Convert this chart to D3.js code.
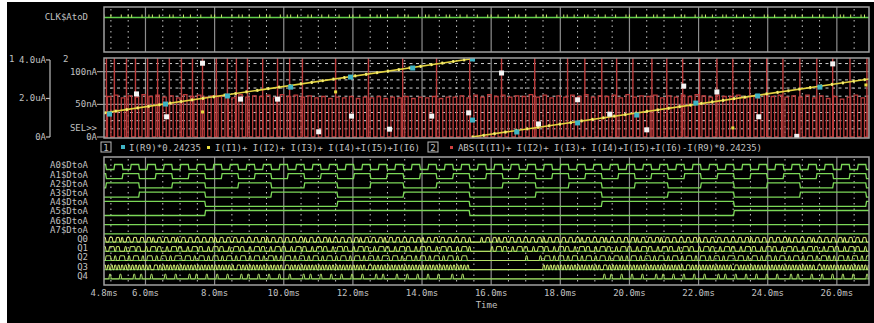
<!DOCTYPE html>
<html>
<head>
<meta charset="utf-8">
<script src="https://cdn.jsdelivr.net/npm/d3@7"></script>
<style>
  body { margin: 0; background: #000; }
  svg { display: block; }
  text { font-family: "DejaVu Sans Mono", monospace; font-size: 9px; fill: #c0c0c0; }
</style>
</head>
<body>
<div id="chart"></div>
<script>
// ---- values ----
const xTicks = [4.8, 6, 8, 10, 12, 14, 16, 18, 20, 22, 24, 26]
const xTickLabels = ["4.8ms", "6.0ms", "8.0ms", "10.0ms", "12.0ms", "14.0ms", "16.0ms", "18.0ms", "20.0ms", "22.0ms", "24.0ms", "26.0ms"]

// axis 1 (uA) and axis 2 (nA) labels
const axis1Ticks = [4, 2, 0]
const axis1Labels = ["4.0uA", "2.0uA", "0A"]
const axis2Ticks = [100, 50, 0]
const axis2Labels = ["100nA", "50nA", "0A"]

// sawtooth I(R9)*0.24235 / sum of I(Ix), in uA  [time ms, value]
const ramp1 = [[4.8, 1.25], [15.44, 4.06]]
const ramp2 = [[15.44, 0.0], [26.93, 3.01]]

// cyan markers (I(R9)*0.24235), uA
const cyanMarks = [[4.96, 1.19], [6.58, 1.71], [8.37, 2.13], [10.20, 2.59], [11.93, 3.11], [13.73, 3.58], [15.46, 4.05],
  [15.46, 0.88], [16.74, 0.26], [18.50, 0.73], [20.21, 1.14], [21.92, 1.76], [23.71, 2.13], [25.51, 2.59]]
// yellow markers off the ramp, uA
const yellowMarks = [[7.65, 1.30], [11.50, 2.34], [22.99, 0.47], [26.84, 2.70]]
// white squares, nA
const whiteMarks = [[7.65, 113], [5.74, 66], [6.61, 31], [8.75, 58], [9.82, 58], [11.01, 8], [11.96, 32], [13.06, 12],
  [14.28, 32], [15.35, 37], [16.30, 98], [17.37, 20], [18.50, 57], [19.43, 35], [20.50, 11], [21.57, 78],
  [22.53, 69], [23.74, 31], [24.84, 1], [25.88, 112]]

// ABS(...) error trace: one pulse every 0.2 ms, top = 57 + digit nA
const redStart = 4.8, redStep = 0.2
const redHigh = "5736485746 3857465738 4657385746 3524352435 2435243524 4637485746 5847364758 4657384657 3647586475 5746385746 47362514736"
// tall red glitches (ms), they run off the top of the panel
const redSpikes = [4.87, 5.10, 5.45, 5.71, 6.06, 6.35, 6.69, 7.04, 7.36, 7.65, 8.05, 8.37, 8.63, 8.95, 9.39, 9.82, 10.17,
  10.54, 11.50, 12.45, 13.44, 14.42, 15.38, 16.30, 17.26, 18.21, 18.71, 19.20, 19.63, 20.10, 20.65, 21.08, 21.54,
  22.03, 22.53, 22.99, 23.48, 23.97, 24.44, 24.93, 25.42, 25.88, 26.38, 26.87]
const redSpikeTop = 130

// counter bits A0..A7, one char per count, counts start at 4.62 ms, 0.239 ms each
const countStart = 4.62, countStep = 0.239
const aLabels = ["A0$DtoA", "A1$DtoA", "A2$DtoA", "A3$DtoA", "A4$DtoA", "A5$DtoA", "A6$DtoA", "A7$DtoA"]
const a0Bits = "10101 01010 10101 01010 10101 01010 10101 01010 10101 01010 10101 01010 10101 01010 10101 01010 10101 01010 1010"
const a1Bits = "1 0011 0011 0011 0011 0011 0011 0011 0011 0011 0011 0011 0011 0011 0011 0011 0011 0011 0011 0011 0011 0011 0011 0011 0"
const a2Bits = "0 11110000 11110000 11110000 11110000 11110000 1111 00001111 00001111 00001111 00001111 00001111 00001111 0"
const a3Bits = "00000 11111111 00000000 11111111 00000000 11111111 00000000 11111111 00000000 11111111 00000000 11111111 0"
const a4Bits = "1111111111111 0000000000000000 1111111111111111 0000000000000000 1111111111111111 0000000000000000 1"
const a5Bits = "0000000000000 11111111111111111111111111111111 00000000000000000000000000000000 11111111111111111"
const a6Bits = "0"
const a7Bits = "0"

// outputs Q0..Q4, one char per 0.1 ms from 4.8 ms; each char holds two 0.05 ms samples (0=00 1=01 2=10 3=11)
const qStart = 4.8, qStep = 0.1
const qLabels = ["Q0", "Q1", "Q2", "Q3", "Q4"]
const q0Bits = "2121221212 1212212121 2212121212 1221212121 2121212212 1212121221 2121221212 1212212121 2212121212 1221212121 2121210002 1212212121 2121212212 1212121221 2121221212 1212212121 2212121212 1221212121 2121212212 1212121221 2121221212 1212212121 21"
const q1Bits = "2131202131 2021312021 3120213120 2131202131 2021312021 3120213120 2131202131 2021312021 3120213120 2131202131 2021310000 0021312021 3120213120 2131202131 2021312021 3120213120 2131202131 2021312021 3120213120 2131202131 2021312021 3120213120 21"
const q2Bits = "1302130213 0213021302 1321302130 2130213021 3021302131 0213021302 1302130213 0213021302 1321302130 2130213021 3021300000 0000000000 0020002130 2130213021 3021302131 0213021302 1302130213 0213021302 1321302130 2130213021 3021302131 0213021302 13"
const q3Bits = "2222222222 2222122222 2222222222 2222222212 2222222222 2212222222 2222222222 2222221222 2222222222 2222222222 2222220000 0000000000 0000000222 2222222222 2222122222 2222222222 2222222212 2222222222 2212222222 2222222222 2222221222 2222222222 22"
const q4Bits = "0100100010 1001000100 1000101001 0010010001 0100100100 1001000101 0010010010 0100100010 1000100100 1001001000 1001000000 0000000000 0000000000 0000000000 0000101001 0010010001 0100100100 1001000101 0010010010 0100100010 1000100100 1001001000 10"

// clock ticks on CLK$AtoD, one char per 0.1 ms
const clkBits = "1010010110 0101101001 1001010010 0110100101 1010010110 0101101001 1001010010 0110100101 1010010110 0101101001 1001010010 0110100101 1010010110 0101101001 1001010010 0110100101 1010010110 0101101001 1001010010 0110100101 1010010110 0101101001 10"

// ---- drawing ----
const W = 874, H = 323
const left = 104, right = 869
const topP = { y0: 7, y1: 52 }, midP = { y0: 58, y1: 138 }, digP = { y0: 157, y1: 285 }

const x = d3.scaleLinear().domain([4.8, 26.93]).range([left, right])
const yI = d3.scaleLinear().domain([0, 4.1]).range([137, 58])
const yN = d3.scaleLinear().domain([0, 121]).range([137, 58])

const clean = s => s.replace(/\s/g, "")

let svg = d3.select("#chart").append("svg").attr("width", W).attr("height", H)
svg.append("rect").attr("width", W).attr("height", H).attr("fill", "#000")
svg.append("rect").attr("width", 7).attr("height", H).attr("fill", "#fff")
svg.append("rect").attr("width", W).attr("height", 2).attr("fill", "#fff")

let defs = svg.append("defs")
defs.append("clipPath").attr("id", "clipMid").append("rect")
  .attr("x", left).attr("y", midP.y0).attr("width", right - left).attr("height", midP.y1 - midP.y0)
defs.append("clipPath").attr("id", "clipAll").append("rect")
  .attr("x", left).attr("y", 0).attr("width", right - left).attr("height", H)

const majors = xTicks.slice(1)
const minors = d3.range(5, 26.93, 0.5).filter(t => Math.abs(t % 2) > 0.01)

// vertical grid in each panel
for (const p of [topP, midP, digP]) {
  svg.append("g").selectAll("line").data(minors).join("line")
    .attr("x1", d => x(d)).attr("x2", d => x(d))
    .attr("y1", p.y0 + 2).attr("y2", p.y1)
    .attr("stroke", "#c8c8c8").attr("stroke-width", 1)
    .attr("stroke-dasharray", "1.5,4")
  svg.append("g").selectAll("line").data(majors).join("line")
    .attr("x1", d => x(d)).attr("x2", d => x(d))
    .attr("y1", p.y0).attr("y2", p.y1)
    .attr("stroke", "#8e8e8e").attr("stroke-width", 1.2)
}

// horizontal grid in analog panel
const hMinor = [12.5, 25, 37.5, 62.5, 75, 87.5, 112.5]
svg.append("g").selectAll("line").data(hMinor).join("line")
  .attr("x1", left).attr("x2", right)
  .attr("y1", d => yN(d)).attr("y2", d => yN(d))
  .attr("stroke", "#d0d0d0").attr("stroke-dasharray", "3,3.5").attr("stroke-width", 1)
svg.append("g").selectAll("line").data([50, 100]).join("line")
  .attr("x1", left).attr("x2", right)
  .attr("y1", d => yN(d)).attr("y2", d => yN(d))
  .attr("stroke", "#8e8e8e").attr("stroke-width", 1.2)

// --- CLK$AtoD ---
svg.append("text").attr("x", 88).attr("y", 20).attr("text-anchor", "end").text("CLK$AtoD")
svg.append("line").attr("x1", left).attr("x2", right).attr("y1", 17.5).attr("y2", 17.5)
  .attr("stroke", "#5fd04a").attr("stroke-width", 1.6)
const clk = clean(clkBits).split("").map((c, i) => ({ t: qStart + i * qStep, on: c === "1" })).filter(d => d.on)
svg.append("g").attr("clip-path", "url(#clipAll)").selectAll("line").data(clk).join("line")
  .attr("x1", d => x(d.t)).attr("x2", d => x(d.t))
  .attr("y1", 14.5).attr("y2", 17.5)
  .attr("stroke", "#c8e86a").attr("stroke-width", 1)

// --- analog panel ---
let mid = svg.append("g").attr("clip-path", "url(#clipMid)")

// red square pulses
const redVals = clean(redHigh).split("").map(c => 57 + (+c))
let redPts = []
redVals.forEach((v, k) => {
  const t0 = redStart + k * redStep
  redPts.push([x(t0), yN(0)], [x(t0 + redStep / 2), yN(0)], [x(t0 + redStep / 2), yN(v)], [x(t0 + redStep), yN(v)], [x(t0 + redStep), yN(0)])
})
mid.append("path").attr("d", d3.line()(redPts))
  .attr("fill", "none").attr("stroke", "#bc3c3c").attr("stroke-width", 1.3)
mid.append("g").selectAll("line").data(redSpikes).join("line")
  .attr("x1", d => x(d)).attr("x2", d => x(d))
  .attr("y1", yN(0)).attr("y2", yN(redSpikeTop))
  .attr("stroke", "#bc3c3c").attr("stroke-width", 1.4)

// ramps
const rampLine = d3.line().x(d => x(d[0])).y(d => yI(d[1]))
for (const r of [ramp1, ramp2]) {
  mid.append("path").attr("d", rampLine(r))
    .attr("fill", "none").attr("stroke", "#e4d440").attr("stroke-width", 1.6)
  mid.append("path").attr("d", rampLine(r))
    .attr("fill", "none").attr("stroke", "#f4ec70").attr("stroke-width", 3)
    .attr("stroke-dasharray", "2,9")
}

mid.append("g").selectAll("rect").data(whiteMarks).join("rect")
  .attr("x", d => x(d[0]) - 2.5).attr("y", d => yN(d[1]) - 2.5)
  .attr("width", 5).attr("height", 5).attr("fill", "#f4f4f4")
mid.append("g").selectAll("rect").data(yellowMarks).join("rect")
  .attr("x", d => x(d[0]) - 1.5).attr("y", d => yI(d[1]) - 1.5)
  .attr("width", 3).attr("height", 3).attr("fill", "#e8dc40")
mid.append("g").selectAll("rect").data(cyanMarks).join("rect")
  .attr("x", d => x(d[0]) - 2.5).attr("y", d => yI(d[1]) - 2.5)
  .attr("width", 5).attr("height", 5).attr("fill", "#3fb4c4")

// axis 1 bracket
svg.append("text").attr("x", 9).attr("y", 62).text("1")
svg.append("line").attr("x1", 50).attr("x2", 50).attr("y1", yI(4)).attr("y2", yI(0))
  .attr("stroke", "#bcbcbc").attr("stroke-width", 1.2)
axis1Ticks.forEach((v, i) => {
  svg.append("line").attr("x1", 46).attr("x2", 50).attr("y1", yI(v)).attr("y2", yI(v))
    .attr("stroke", "#bcbcbc").attr("stroke-width", 1.2)
  svg.append("text").attr("x", 46).attr("y", yI(v) + 3).attr("text-anchor", "end").text(axis1Labels[i])
})
// axis 2
svg.append("text").attr("x", 63).attr("y", 62).text("2")
axis2Ticks.forEach((v, i) => {
  svg.append("line").attr("x1", 97).attr("x2", left).attr("y1", yN(v)).attr("y2", yN(v))
    .attr("stroke", "#bcbcbc").attr("stroke-width", 1)
  svg.append("text").attr("x", 97).attr("y", yN(v) + 3).attr("text-anchor", "end").text(axis2Labels[i])
})
svg.append("text").attr("x", 97).attr("y", 131).attr("text-anchor", "end").text("SEL>>")

// legend
function legendBox(bx, label) {
  svg.append("rect").attr("x", bx).attr("y", 142).attr("width", 10).attr("height", 10)
    .attr("fill", "none").attr("stroke", "#bcbcbc").attr("stroke-width", 1)
  svg.append("text").attr("x", bx + 5).attr("y", 150.5).attr("text-anchor", "middle").text(label)
}
legendBox(101, "1")
svg.append("rect").attr("x", 121).attr("y", 145).attr("width", 4).attr("height", 4).attr("fill", "#3fb4c4")
svg.append("text").attr("x", 129).attr("y", 150.5).attr("textLength", 72).text("I(R9)*0.24235")
svg.append("rect").attr("x", 207).attr("y", 146).attr("width", 3).attr("height", 3).attr("fill", "#e8dc40")
svg.append("text").attr("x", 215).attr("y", 150.5).attr("textLength", 205).text("I(I1)+ I(I2)+ I(I3)+ I(I4)+I(I5)+I(I6)")
legendBox(428, "2")
svg.append("rect").attr("x", 450).attr("y", 146).attr("width", 3).attr("height", 3).attr("fill", "#d04040")
svg.append("text").attr("x", 458).attr("y", 150.5).attr("textLength", 304).text("ABS(I(I1)+ I(I2)+ I(I3)+ I(I4)+I(I5)+I(I6)-I(R9)*0.24235)")

// --- digital panel ---
function digitalPath(levels, t0, dt, yHi, yLo) {
  let pts = [], prev = null
  levels.forEach((lv, i) => {
    const px = x(t0 + i * dt)
    const yv = lv ? yHi : yLo
    if (prev === null) pts.push([px, yv])
    else if (yv !== prev) { pts.push([px - 0.4, prev]); pts.push([px + 0.4, yv]) }
    prev = yv
  })
  pts.push([right + 2, prev])
  return d3.line()(pts)
}
const plainLevels = s => clean(s).split("").map(c => c === "1")
const pairLevels = s => clean(s).split("").flatMap(c => [((+c) >> 1) & 1, (+c) & 1]).map(Boolean)

let dig = svg.append("g").attr("clip-path", "url(#clipAll)")
const aBits = [a0Bits, a1Bits, a2Bits, a3Bits, a4Bits, a5Bits, a6Bits, a7Bits]
const qBits = [q0Bits, q1Bits, q2Bits, q3Bits, q4Bits]
const qColors = ["#e4f47a", "#c8ea6c", "#b4e068", "#d0ee70", "#a8d866"]
const rowY = i => 165 + 9.2 * i

aBits.forEach((bits, i) => {
  const c = rowY(i)
  svg.append("text").attr("x", 88).attr("y", c + 3.3).attr("text-anchor", "end").text(aLabels[i])
  dig.append("path").attr("d", digitalPath(plainLevels(bits), countStart, countStep, c - 0.5, c + 4.5))
    .attr("fill", "none").attr("stroke", "#7cd858").attr("stroke-width", 1.3)
})
qBits.forEach((bits, j) => {
  const c = rowY(8 + j)
  svg.append("text").attr("x", 88).attr("y", c + 3.3).attr("text-anchor", "end").text(qLabels[j])
  dig.append("line").attr("x1", left).attr("x2", right).attr("y1", c + 3.5).attr("y2", c + 3.5)
    .attr("stroke", "#6cc850").attr("stroke-width", 1)
  dig.append("path").attr("d", digitalPath(pairLevels(bits), qStart, qStep / 2, c - 1.2, c + 3.5))
    .attr("fill", "none").attr("stroke", qColors[j]).attr("stroke-width", 1)
})

// panel frames
for (const p of [topP, midP, digP]) {
  svg.append("rect").attr("x", left).attr("y", p.y0).attr("width", right - left).attr("height", p.y1 - p.y0)
    .attr("fill", "none").attr("stroke", "#a0a0a0").attr("stroke-width", 1.5)
}

// x axis labels
svg.append("g").selectAll("text").data(xTicks).join("text")
  .attr("x", d => x(d)).attr("y", 296).attr("text-anchor", "middle")
  .text((d, i) => xTickLabels[i])
svg.append("text").attr("x", (left + right) / 2).attr("y", 308).attr("text-anchor", "middle").text("Time")
</script>
</body>
</html>
